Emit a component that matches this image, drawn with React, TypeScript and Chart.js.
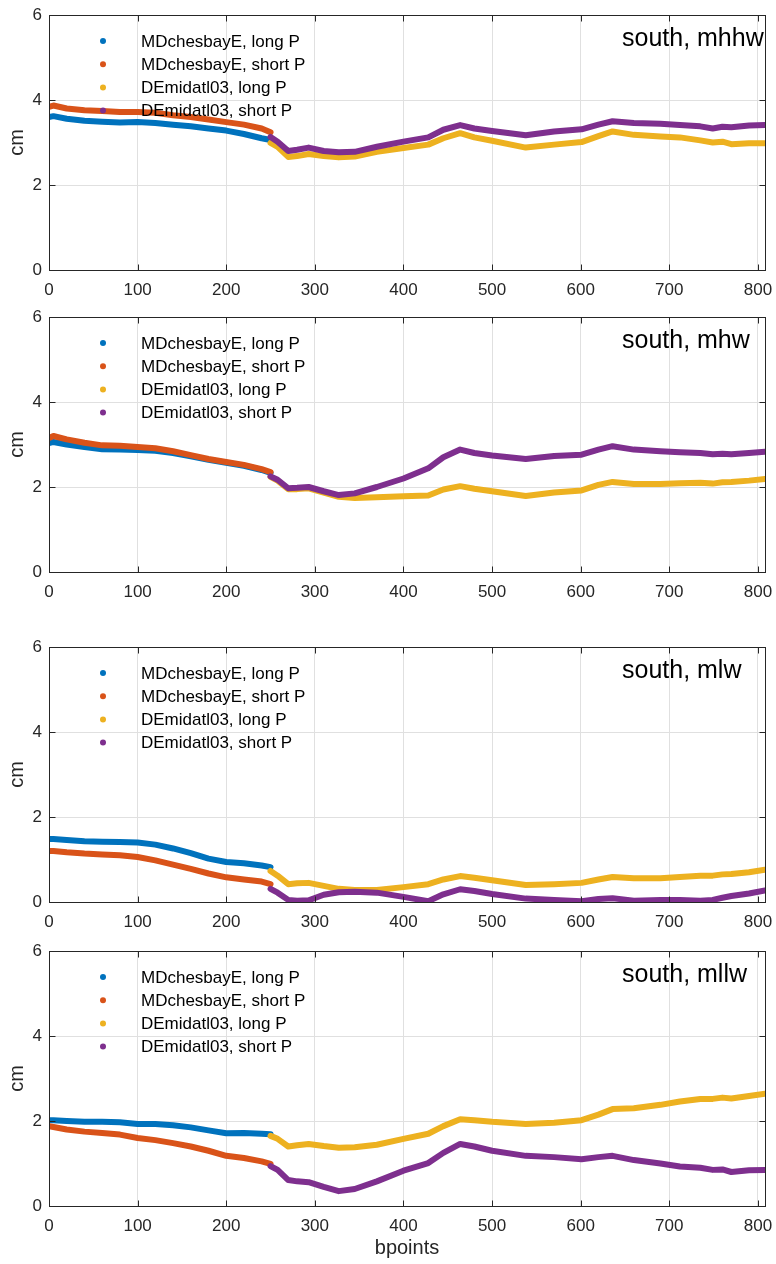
import React, { useEffect, useRef } from 'react';
import { Chart, registerables } from 'chart.js';

Chart.register(...registerables);

// ---------- data ----------
const seriesLabels = ['MDchesbayE, long P', 'MDchesbayE, short P', 'DEmidatl03, long P', 'DEmidatl03, short P'];
const seriesColors = ['#0072BD', '#D95319', '#EDB120', '#7E2F8E'];
const panelTitles = ['south, mhhw', 'south, mhw', 'south, mlw', 'south, mllw'];
const xTicks = [0, 100, 200, 300, 400, 500, 600, 700, 800];
const yTicks = [0, 2, 4, 6];
const xAxisTitle = 'bpoints';
const yAxisTitle = 'cm';

const bpMD = [0, 5, 20, 40, 60, 80, 100, 120, 140, 160, 180, 200, 220, 240, 250];
const bpDE = [250, 258, 270, 280, 293, 310, 327, 345, 370, 400, 428, 445, 464, 480, 500, 538, 570, 601, 620, 636, 660, 690, 712, 735, 749, 760, 770, 790, 808];

const mhhwMDlong = [3.60, 3.62, 3.56, 3.51, 3.49, 3.47, 3.48, 3.46, 3.42, 3.38, 3.33, 3.28, 3.20, 3.10, 3.06];
const mhhwMDshort = [3.84, 3.87, 3.80, 3.76, 3.74, 3.72, 3.72, 3.70, 3.64, 3.60, 3.54, 3.48, 3.42, 3.33, 3.24];
const mhhwDElong = [2.99, 2.90, 2.66, 2.68, 2.73, 2.68, 2.65, 2.67, 2.78, 2.87, 2.95, 3.10, 3.22, 3.12, 3.04, 2.88, 2.95, 3.01, 3.15, 3.26, 3.18, 3.14, 3.12, 3.05, 3.00, 3.02, 2.96, 2.98, 2.98];
const mhhwDEshort = [3.13, 3.02, 2.80, 2.83, 2.88, 2.80, 2.77, 2.78, 2.90, 3.02, 3.12, 3.30, 3.41, 3.33, 3.27, 3.17, 3.26, 3.31, 3.42, 3.50, 3.46, 3.44, 3.41, 3.38, 3.33, 3.37, 3.36, 3.40, 3.41];

const mhwMDlong = [3.03, 3.06, 3.00, 2.94, 2.89, 2.88, 2.87, 2.85, 2.80, 2.72, 2.64, 2.57, 2.50, 2.40, 2.33];
const mhwMDshort = [3.15, 3.20, 3.12, 3.04, 2.98, 2.97, 2.94, 2.91, 2.84, 2.75, 2.66, 2.59, 2.52, 2.42, 2.35];
const mhwDElong = [2.24, 2.15, 1.95, 1.95, 1.97, 1.87, 1.77, 1.74, 1.76, 1.78, 1.80, 1.94, 2.02, 1.96, 1.90, 1.79, 1.87, 1.92, 2.05, 2.12, 2.07, 2.07, 2.09, 2.10, 2.08, 2.11, 2.12, 2.15, 2.19];
const mhwDEshort = [2.25, 2.17, 1.97, 1.98, 2.00, 1.90, 1.81, 1.85, 2.00, 2.20, 2.44, 2.70, 2.88, 2.80, 2.74, 2.66, 2.73, 2.76, 2.88, 2.96, 2.88, 2.84, 2.82, 2.80, 2.77, 2.78, 2.77, 2.80, 2.83];

const mlwMDlong = [1.48, 1.48, 1.46, 1.43, 1.42, 1.41, 1.40, 1.35, 1.26, 1.15, 1.02, 0.94, 0.91, 0.86, 0.82];
const mlwMDshort = [1.20, 1.20, 1.17, 1.14, 1.12, 1.10, 1.06, 0.98, 0.88, 0.78, 0.67, 0.58, 0.53, 0.48, 0.42];
const mlwDElong = [0.73, 0.62, 0.42, 0.44, 0.45, 0.38, 0.31, 0.28, 0.28, 0.35, 0.42, 0.53, 0.61, 0.57, 0.51, 0.40, 0.42, 0.45, 0.53, 0.59, 0.56, 0.56, 0.59, 0.62, 0.62, 0.65, 0.66, 0.70, 0.76];
const mlwDEshort = [0.31, 0.22, 0.05, 0.03, 0.04, 0.17, 0.23, 0.24, 0.22, 0.12, 0.02, 0.18, 0.30, 0.26, 0.19, 0.08, 0.05, 0.02, 0.07, 0.09, 0.03, 0.05, 0.05, 0.03, 0.05, 0.10, 0.14, 0.20, 0.27];

const mllwMDlong = [2.02, 2.02, 2.00, 1.98, 1.98, 1.97, 1.93, 1.93, 1.90, 1.85, 1.78, 1.71, 1.72, 1.70, 1.69];
const mllwMDshort = [1.88, 1.86, 1.80, 1.75, 1.72, 1.68, 1.60, 1.55, 1.48, 1.40, 1.30, 1.18, 1.13, 1.05, 0.99];
const mllwDElong = [1.65, 1.58, 1.40, 1.43, 1.46, 1.41, 1.37, 1.38, 1.44, 1.58, 1.70, 1.88, 2.04, 2.02, 1.98, 1.93, 1.96, 2.02, 2.15, 2.28, 2.30, 2.38, 2.46, 2.52, 2.52, 2.55, 2.53, 2.59, 2.64];
const mllwDEshort = [0.94, 0.85, 0.61, 0.58, 0.56, 0.45, 0.35, 0.40, 0.58, 0.83, 1.01, 1.25, 1.46, 1.40, 1.30, 1.18, 1.15, 1.10, 1.15, 1.18, 1.08, 1.00, 0.93, 0.90, 0.85, 0.86, 0.80, 0.84, 0.85];

const panelValues = [
  [mhhwMDlong, mhhwMDshort, mhhwDElong, mhhwDEshort],
  [mhwMDlong, mhwMDshort, mhwDElong, mhwDEshort],
  [mlwMDlong, mlwMDshort, mlwDElong, mlwDEshort],
  [mllwMDlong, mllwMDshort, mllwDElong, mllwDEshort],
];

// ---------- layout / style ----------
const FONT = "'Liberation Sans', Arial, Helvetica, sans-serif";
const AXIS = '#262626';
const GRID = '#e0e0e0';
const W = 776;
const PANEL_TOPS = [15, 317, 647, 951];
const PLOT_H = 255;
const PAD_TOP = 15;
const AX_LEFT = 49;
const AX_RIGHT = 765;
const X_MAX = 808;

const pts = (xs: number[], ys: number[]) => xs.map((x, i) => ({ x, y: ys[i] }));

const matlabPlugin = {
  id: 'matlabAxes',
  afterDraw(chart: any, _args: any, opts: any) {
    const { ctx, chartArea: a } = chart;
    const xs = chart.scales.x;
    const ys = chart.scales.y;
    const L = Math.round(a.left) + 0.5;
    const R = Math.round(a.right) + 0.5;
    const T = Math.round(a.top) + 0.5;
    const B = Math.round(a.bottom) + 0.5;
    ctx.save();
    ctx.strokeStyle = AXIS;
    ctx.lineWidth = 1;
    ctx.strokeRect(L, T, R - L, B - T);
    ctx.beginPath();
    xs.ticks.forEach((t: any) => {
      const p = Math.round(xs.getPixelForValue(t.value)) + 0.5;
      ctx.moveTo(p, B); ctx.lineTo(p, B - 6);
      ctx.moveTo(p, T); ctx.lineTo(p, T + 6);
    });
    ys.ticks.forEach((t: any) => {
      const p = Math.round(ys.getPixelForValue(t.value)) + 0.5;
      ctx.moveTo(L, p); ctx.lineTo(L + 6, p);
      ctx.moveTo(R, p); ctx.lineTo(R - 6, p);
    });
    ctx.stroke();

    ctx.textAlign = 'left';
    ctx.textBaseline = 'alphabetic';
    ctx.fillStyle = '#000';
    ctx.font = `25px ${FONT}`;
    ctx.fillText(opts.title, a.left + 573, a.top + 31);

    ctx.font = `17px ${FONT}`;
    chart.data.datasets.forEach((ds: any, i: number) => {
      const y = a.top + 26 + i * 23.2;
      ctx.fillStyle = ds.borderColor;
      ctx.beginPath();
      ctx.arc(a.left + 54, y, 3, 0, Math.PI * 2);
      ctx.fill();
      ctx.fillStyle = '#000';
      ctx.fillText(ds.label, a.left + 92, y + 5.5);
    });
    ctx.restore();
  },
};

function canvasHeight(i: number) {
  return PAD_TOP + PLOT_H + (i === 3 ? 58 : 35);
}

export default function App() {
  const refs = useRef<(HTMLCanvasElement | null)[]>([]);

  useEffect(() => {
    const charts: Chart[] = [];
    panelValues.forEach((vals, i) => {
      const canvas = refs.current[i];
      if (!canvas) return;
      const isLast = i === 3;
      const bottomBox = isLast ? 57 : 35;
      const datasets = vals.map((v, k) => ({
        label: seriesLabels[k],
        data: pts(k < 2 ? bpMD : bpDE, v),
        borderColor: seriesColors[k],
        backgroundColor: seriesColors[k],
        borderWidth: 6,
        pointRadius: 0,
        tension: 0,
        fill: false,
        borderCapStyle: 'round',
        borderJoinStyle: 'round',
        order: 3 - k,
      }));
      const chart = new Chart(canvas, {
        type: 'line',
        data: { datasets } as any,
        plugins: [matlabPlugin],
        options: {
          responsive: false,
          animation: false,
          layout: { padding: { top: PAD_TOP, left: 0, right: W - AX_RIGHT, bottom: isLast ? 1 : 0 } },
          plugins: {
            legend: { display: false },
            tooltip: { enabled: false },
            matlabAxes: { title: panelTitles[i] },
          } as any,
          scales: {
            x: {
              type: 'linear',
              min: 0,
              max: X_MAX,
              afterBuildTicks: (s: any) => { s.ticks = xTicks.map((v) => ({ value: v })); },
              afterFit: (s: any) => { s.height = bottomBox; s.paddingLeft = 0; s.paddingRight = 0; },
              grid: { color: GRID, drawTicks: false, lineWidth: 1 },
              border: { display: false },
              ticks: { font: { size: 17, family: FONT }, color: AXIS, padding: 10, maxRotation: 0, autoSkip: false },
              title: isLast
                ? { display: true, text: xAxisTitle, font: { size: 20, family: FONT }, color: AXIS, padding: { top: 0, bottom: 3 } }
                : { display: false },
            },
            y: {
              type: 'linear',
              min: 0,
              max: 6,
              afterBuildTicks: (s: any) => { s.ticks = yTicks.map((v) => ({ value: v })); },
              afterFit: (s: any) => { s.width = AX_LEFT; s.paddingTop = 0; s.paddingBottom = 0; },
              grid: { color: GRID, drawTicks: false, lineWidth: 1 },
              border: { display: false },
              ticks: { font: { size: 17, family: FONT }, color: AXIS, padding: 7 },
              title: { display: true, text: yAxisTitle, font: { size: 20, family: FONT }, color: AXIS, padding: { top: 5, bottom: 0 } },
            },
          },
        } as any,
      });
      charts.push(chart);
    });
    return () => charts.forEach((c) => c.destroy());
  }, []);

  return (
    <div style={{ position: 'absolute', left: 0, top: 0, width: W, height: 1264, overflow: 'hidden', background: '#fff' }}>
      {PANEL_TOPS.map((t, i) => (
        <canvas
          key={i}
          ref={(el) => { refs.current[i] = el; }}
          width={W}
          height={canvasHeight(i)}
          style={{ position: 'absolute', left: 0, top: t - PAD_TOP, width: W, height: canvasHeight(i), display: 'block' }}
        />
      ))}
    </div>
  );
}
